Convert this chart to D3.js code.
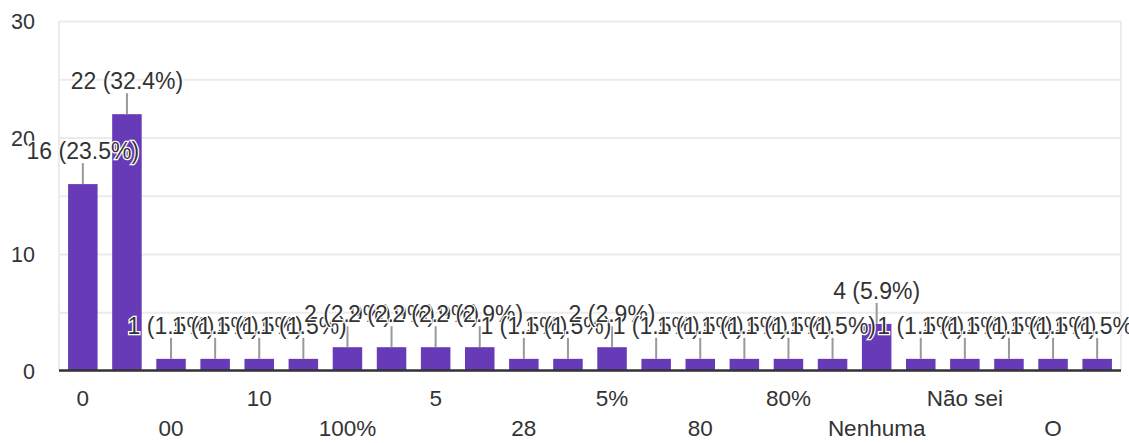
<!DOCTYPE html>
<html>
<head>
<meta charset="utf-8">
<script src="https://cdn.jsdelivr.net/npm/d3@7"></script>
<style>
  body { margin: 0; background: #fff; }
  text { font-family: "Liberation Sans", Arial, sans-serif; }
</style>
</head>
<body>
<svg width="1129" height="443"></svg>
<script>
var width = 1129;
var height = 443;
var margin = {left: 59, right: 8, top: 21, bottom: 72.5};

// only every other category label is legible in the picture, the rest are left blank
var categories = ["0", "", "00", "", "10", "", "100%", "", "5", "", "28", "",
                  "5%", "", "80", "", "80%", "", "Nenhuma", "", "Não sei", "", "O", ""];
var counts = [16, 22, 1, 1, 1, 1, 2, 2, 2, 2, 1, 1, 2, 1, 1, 1, 1, 1, 4, 1, 1, 1, 1, 1];
var yTicks = [0, 10, 20, 30];
var gridTicks = [0, 5, 10, 15, 20, 25, 30];

var total = d3.sum(counts);
var svg = d3.select('svg');

var xScale = d3.scaleBand()
  .domain(d3.range(categories.length))
  .range([margin.left, width - margin.right])
  .paddingInner(0.331)
  .paddingOuter(0.206);

var yScale = d3.scaleLinear()
  .domain([0, 30])
  .range([height - margin.bottom, margin.top]);

// gridlines
svg.append('g')
  .attr('transform', 'translate(' + margin.left + ',0)')
  .call(d3.axisLeft(yScale).tickValues(gridTicks).tickSize(-(width - margin.left - margin.right)).tickFormat(''))
  .call(function(g) {
    g.select('.domain').remove();
    g.selectAll('line').attr('stroke', '#ebebeb').attr('stroke-width', 2);
  });

// left and right frame lines
svg.selectAll('line.frame')
  .data(xScale.range())
  .enter()
  .append('line')
  .attr('class', 'frame')
  .attr('x1', function(d) { return d; })
  .attr('x2', function(d) { return d; })
  .attr('y1', yScale(30))
  .attr('y2', yScale(0))
  .attr('stroke', '#ebebeb')
  .attr('stroke-width', 2);

// y labels
svg.append('g')
  .attr('transform', 'translate(35,0)')
  .call(d3.axisLeft(yScale).tickValues(yTicks).tickSize(0).tickPadding(0))
  .call(function(g) {
    g.select('.domain').remove();
    g.selectAll('text')
      .attr('fill', '#333')
      .style('font-size', '21.5px')
      .attr('dy', '0.36em');
  });

// bars
svg.selectAll('rect.bar')
  .data(counts)
  .enter()
  .append('rect')
  .attr('class', 'bar')
  .attr('x', function(d, i) { return xScale(i); })
  .attr('y', function(d) { return yScale(d); })
  .attr('width', xScale.bandwidth())
  .attr('height', function(d) { return yScale(0) - yScale(d); })
  .attr('fill', '#673ab7');

// baseline
svg.append('line')
  .attr('x1', xScale.range()[0])
  .attr('x2', xScale.range()[1])
  .attr('y1', yScale(0))
  .attr('y2', yScale(0))
  .attr('stroke', '#333')
  .attr('stroke-width', 2.5);

// x labels, every other category, staggered on two rows
var shown = categories.map(function(c, i) { return {label: c, i: i}; })
  .filter(function(d) { return d.i % 2 == 0; });

svg.selectAll('text.xlab')
  .data(shown)
  .enter()
  .append('text')
  .attr('class', 'xlab')
  .attr('x', function(d) { return xScale(d.i) + xScale.bandwidth() / 2; })
  .attr('y', function(d) { return (d.i / 2) % 2 == 0 ? 406 : 436; })
  .attr('text-anchor', 'middle')
  .attr('fill', '#333')
  .style('font-size', '22.5px')
  .text(function(d) { return d.label; });

// annotation stems
var stem = 21;
svg.selectAll('line.stem')
  .data(counts)
  .enter()
  .append('line')
  .attr('class', 'stem')
  .attr('x1', function(d, i) { return xScale(i) + xScale.bandwidth() / 2; })
  .attr('x2', function(d, i) { return xScale(i) + xScale.bandwidth() / 2; })
  .attr('y1', function(d) { return yScale(d); })
  .attr('y2', function(d) { return yScale(d) - stem; })
  .attr('stroke', '#999')
  .attr('stroke-width', 2);

// annotation labels
svg.selectAll('text.note')
  .data(counts)
  .enter()
  .append('text')
  .attr('class', 'note')
  .attr('x', function(d, i) { return xScale(i) + xScale.bandwidth() / 2; })
  .attr('y', function(d) { return yScale(d) - stem - 4; })
  .attr('text-anchor', 'middle')
  .attr('fill', '#333')
  .attr('stroke', '#fff')
  .attr('stroke-width', 2.5)
  .attr('paint-order', 'stroke')
  .style('font-size', '23px')
  .text(function(d) { return d + ' (' + (d / total * 100).toFixed(1) + '%)'; });
</script>
</body>
</html>
